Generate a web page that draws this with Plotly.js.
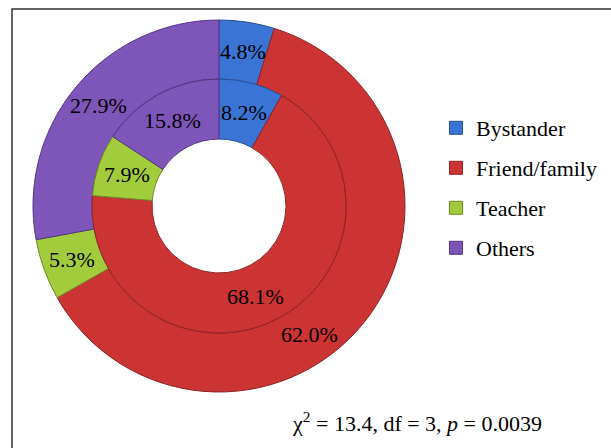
<!DOCTYPE html>
<html>
<head>
<meta charset="utf-8">
<script src="https://cdn.plot.ly/plotly-3.0.1.min.js"></script>
<style>html,body{margin:0;padding:0;background:#fff;}#chart{width:611px;height:448px;}</style>
</head>
<body>
<div id="chart"></div>
<script>
// Data
const categories = ["Bystander", "Friend/family", "Teacher", "Others"];
const outerValues = [4.8, 62.0, 5.3, 27.9];
const innerValues = [8.2, 68.1, 7.9, 15.8];
const colors = ["#3a74d4", "#cc3333", "#a3cc3c", "#7e55b8"];
const lineColors = ["#2a4f96", "#8e2326", "#6d8a26", "#533585"];
const statsText = "χ<sup>2</sup> = 13.4, df = 3, <i>p</i> = 0.0039";

const W = 611, H = 448;
const cx = 219, cy = 206;
const rOuter = 186, rInner = 127, rHole = 67;
function dom(r) {
  return {
    x: [(cx - r) / W, (cx + r) / W],
    y: [(H - cy - r) / H, (H - cy + r) / H]
  };
}
const serif = "Liberation Serif";

const pieCommon = {
  type: "pie",
  labels: categories,
  sort: false,
  direction: "clockwise",
  rotation: 0,
  textinfo: "none",
  marker: {colors: colors, line: {color: lineColors, width: 1}},
  showlegend: false,
  hoverinfo: "label+value"
};

const outer = Object.assign({}, pieCommon, {
  values: outerValues,
  domain: dom(rOuter),
  hole: rInner / rOuter
});
const inner = Object.assign({}, pieCommon, {
  values: innerValues,
  domain: dom(rInner),
  hole: rHole / rInner
});

// slice labels at the middle of each ring slice (largest slice label nudged like the original)
const bigShiftDeg = {outer: 16, inner: 6};
function ringLabels(values, r0, r1, shift) {
  const total = values.reduce((a, b) => a + b, 0);
  const rm = (r0 + r1) / 2;
  const maxV = Math.max.apply(null, values);
  let cum = 0;
  return values.map(v => {
    let a = (cum + v / 2) / total * 360;
    if (v === maxV) a += shift;
    cum += v;
    const t = a * Math.PI / 180;
    return {
      text: v.toFixed(1) + "%",
      xref: "paper", yref: "paper",
      x: (cx + rm * Math.sin(t)) / W,
      y: (H - (cy - rm * Math.cos(t))) / H,
      xanchor: "center", yanchor: "middle",
      showarrow: false,
      font: {family: serif, size: 22, color: "#000"}
    };
  });
}

// legend entries
const legendTraces = categories.map((c, i) => ({
  type: "scatter",
  mode: "markers",
  x: [null], y: [null],
  name: c,
  legendgroup: "g" + i,
  marker: {symbol: "square", size: 13, color: colors[i], line: {color: lineColors[i], width: 1}},
  hoverinfo: "skip"
}));

const layout = {
  width: W, height: H,
  margin: {l: 0, r: 0, t: 0, b: 0},
  font: {family: serif, size: 22, color: "#000"},
  paper_bgcolor: "#fff",
  plot_bgcolor: "rgba(0,0,0,0)",
  xaxis: {visible: false},
  yaxis: {visible: false},
  showlegend: true,
  legend: {
    x: 436 / W, xanchor: "left",
    y: (H - 107) / H, yanchor: "top",
    font: {family: serif, size: 22, color: "#000"},
    traceorder: "grouped",
    tracegroupgap: 8.4,
    bgcolor: "rgba(0,0,0,0)"
  },
  annotations: ringLabels(outerValues, rInner, rOuter, bigShiftDeg.outer)
    .concat(ringLabels(innerValues, rHole, rInner, bigShiftDeg.inner))
    .concat([{
      text: statsText,
      xref: "paper", yref: "paper",
      x: 417 / W, y: (H - 422) / H,
      xanchor: "center", yanchor: "middle",
      showarrow: false,
      font: {family: serif, size: 22, color: "#000"}
    }]),
  shapes: [{
    type: "rect", xref: "paper", yref: "paper",
    x0: 12 / W, x1: 1.02, y0: -0.02, y1: (H - 9) / H,
    line: {color: "#333", width: 1.5}
  }]
};

Plotly.newPlot("chart", [outer, inner].concat(legendTraces), layout, {displayModeBar: false, staticPlot: true});
</script>
</body>
</html>
